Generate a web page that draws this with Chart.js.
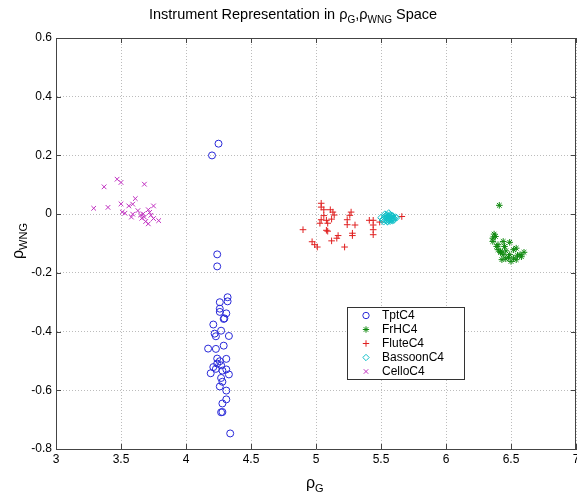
<!DOCTYPE html>
<html>
<head>
<meta charset="utf-8">
<script src="https://cdn.jsdelivr.net/npm/chart.js@4.4.1/dist/chart.umd.min.js"></script>
<style>
  body { margin: 0; background: #fff; }
  #wrap { position: relative; width: 577px; height: 496px; overflow: hidden; font-family: "Liberation Sans", Arial, sans-serif; color: #000; }
  #scatterChart { position: absolute; left: 0; top: 0; }
  #title { position: absolute; left: 149px; top: 6px; font-size: 14.5px; white-space: nowrap; }
  #title sub { font-size: 10px; vertical-align: -4px; line-height: 0; }
  .ax sub { font-size: 11px; vertical-align: -4px; line-height: 0; }
  .ax { position: absolute; font-size: 16px; white-space: nowrap; }
  #xTitle { left: 306px; top: 474px; }
  #yTitle { left: -8px; top: 232px; transform: rotate(-90deg); transform-origin: center; width: 52px; text-align: center; }
</style>
</head>
<body>
<div id="wrap">
  <canvas id="scatterChart" width="581" height="496"></canvas>
  <div id="title">Instrument Representation in &rho;<sub>G</sub>,&rho;<sub>WNG</sub> Space</div>
  <div class="ax" id="xTitle">&rho;<sub>G</sub></div>
  <div class="ax" id="yTitle">&rho;<sub>WNG</sub></div>
</div>
<script>
// tick values
var xTicks = [3, 3.5, 4, 4.5, 5, 5.5, 6, 6.5, 7];
var yTicks = [-0.8, -0.6, -0.4, -0.2, 0, 0.2, 0.4, 0.6];

// series names
var seriesNames = ["TptC4", "FrHC4", "FluteC4", "BassoonC4", "CelloC4"];

// TptC4
var tptX = [4.25, 4.20, 4.24, 4.24, 4.32, 4.32, 4.26, 4.26, 4.26, 4.31, 4.29, 4.295, 4.21, 4.27, 4.22, 4.23, 4.33, 4.29, 4.17, 4.23,
            4.24, 4.31, 4.26, 4.24, 4.27, 4.21, 4.23, 4.31, 4.28, 4.19, 4.33, 4.27, 4.28, 4.26, 4.31, 4.31, 4.28, 4.27, 4.28, 4.34];
var tptY = [0.24, 0.20, -0.137, -0.178, -0.283, -0.297, -0.30, -0.322, -0.333, -0.338, -0.357, -0.355, -0.376, -0.397, -0.407, -0.416, -0.415, -0.448, -0.458, -0.459,
            -0.492, -0.493, -0.501, -0.509, -0.515, -0.521, -0.527, -0.529, -0.533, -0.542, -0.546, -0.558, -0.571, -0.587, -0.601, -0.631, -0.645, -0.675, -0.674, -0.747];

// FrHC4
var frhX = [6.41, 6.37, 6.36, 6.38, 6.36, 6.44, 6.49, 6.40, 6.45, 6.40, 6.42, 6.46, 6.52, 6.54, 6.60, 6.57, 6.49, 6.44, 6.52, 6.48,
            6.43, 6.54, 6.50, 6.42, 6.39, 6.46, 6.55, 6.58];
var frhY = [0.030, -0.068, -0.082, -0.076, -0.093, -0.093, -0.096, -0.104, -0.110, -0.121, -0.127, -0.125, -0.121, -0.116, -0.130, -0.138, -0.138, -0.138, -0.150, -0.147,
            -0.155, -0.155, -0.161, -0.131, -0.110, -0.152, -0.140, -0.145];

// FluteC4
var fluteX = [5.04, 5.04, 5.06, 5.11, 5.13, 5.14, 5.27, 5.26, 5.06, 5.04, 5.08, 5.12, 5.24, 5.03, 5.09, 5.24, 5.30, 4.90, 5.08, 5.09,
              5.28, 5.28, 5.17, 5.16, 5.12, 4.97, 4.99, 5.01, 5.22, 5.41, 5.44, 5.44, 5.44, 5.44, 5.66, 5.49];
var fluteY = [0.037, 0.024, 0.015, 0.015, 0.007, -0.003, 0.007, -0.004, -0.005, -0.019, -0.021, -0.017, -0.019, -0.031, -0.031, -0.036, -0.037, -0.053, -0.055, -0.058,
              -0.065, -0.073, -0.073, -0.082, -0.091, -0.094, -0.104, -0.112, -0.112, -0.021, -0.021, -0.037, -0.053, -0.070, -0.008, -0.027];

// BassoonC4
var bassoonX = [5.50, 5.52, 5.53, 5.54, 5.55, 5.56, 5.57, 5.58, 5.59, 5.60, 5.61, 5.52, 5.53, 5.55, 5.56, 5.57, 5.58, 5.59, 5.54, 5.55,
                5.56, 5.57, 5.58, 5.53, 5.55, 5.57, 5.59, 5.51, 5.54, 5.56, 5.58, 5.60, 5.62, 5.55, 5.57];
var bassoonY = [-0.012, -0.018, -0.008, -0.022, -0.004, -0.015, -0.010, -0.020, -0.006, -0.014, -0.010, -0.026, 0.000, -0.024, 0.004, -0.006, -0.016, -0.022, -0.012, -0.018,
                -0.020, -0.002, -0.012, -0.014, -0.010, -0.018, -0.014, -0.020, -0.004, -0.008, -0.004, -0.020, -0.012, -0.026, -0.024];

// CelloC4
var celloX = [3.47, 3.50, 3.37, 3.68, 3.29, 3.40, 3.50, 3.61, 3.59, 3.56, 3.53, 3.51, 3.59, 3.58, 3.65, 3.67, 3.71, 3.75, 3.72, 3.66,
              3.69, 3.75, 3.79, 3.71, 3.63, 3.73, 3.68];
var celloY = [0.119, 0.108, 0.093, 0.102, 0.020, 0.023, 0.035, 0.053, 0.034, 0.028, 0.003, 0.007, 0.000, -0.010, -0.003, 0.001, 0.015, 0.028, 0.006, -0.014,
              -0.025, -0.015, -0.022, -0.033, 0.012, -0.004, -0.010];

var seriesColors = ["#2828d8", "#108a10", "#e02020", "#10c0c8", "#c030c0"];
var seriesStyles = ["circle", "star", "cross", "rectRot", "crossRot"];

function toPoints(xs, ys) {
  var pts = [];
  for (var i = 0; i < xs.length; i++) {
    pts.push({ x: xs[i], y: ys[i] });
  }
  return pts;
}

var allData = [toPoints(tptX, tptY), toPoints(frhX, frhY), toPoints(fluteX, fluteY), toPoints(bassoonX, bassoonY), toPoints(celloX, celloY)];

var datasets = [];
seriesNames.forEach(function (name, i) {
  datasets.push({
    label: name,
    data: allData[i],
    pointStyle: seriesStyles[i],
    pointRadius: i == 0 ? 3.5 : 3.3,
    pointBorderWidth: 1,
    borderColor: seriesColors[i],
    backgroundColor: "rgba(0,0,0,0)",
    order: 5 - i,
  });
});

// box on top/right, inner tick marks, legend inside plot
var boxLegend = {
  id: "boxLegend",
  afterDraw: function (chart) {
    var ctx = chart.ctx;
    var a = chart.chartArea;
    var sx = chart.scales.x, sy = chart.scales.y;
    ctx.save();
    ctx.strokeStyle = "#444";
    ctx.lineWidth = 1;
    ctx.beginPath();
    ctx.moveTo(a.left, a.top + 0.5);
    ctx.lineTo(a.right, a.top + 0.5);
    ctx.moveTo(a.right - 0.5, a.top);
    ctx.lineTo(a.right - 0.5, a.bottom);
    xTicks.forEach(function (v) {
      var px = Math.round(sx.getPixelForValue(v)) + 0.5;
      ctx.moveTo(px, a.bottom);
      ctx.lineTo(px, a.bottom - 5);
      ctx.moveTo(px, a.top);
      ctx.lineTo(px, a.top + 5);
    });
    yTicks.forEach(function (v) {
      var py = Math.round(sy.getPixelForValue(v)) + 0.5;
      ctx.moveTo(a.left, py);
      ctx.lineTo(a.left + 5, py);
      ctx.moveTo(a.right, py);
      ctx.lineTo(a.right - 5, py);
    });
    ctx.stroke();

    // legend
    var lx = 347, ly = 307, lw = 117, lh = 72;
    ctx.fillStyle = "#fff";
    ctx.fillRect(lx, ly, lw, lh);
    ctx.strokeStyle = "#333";
    ctx.strokeRect(lx + 0.5, ly + 0.5, lw, lh);
    ctx.font = "12px 'Liberation Sans', Arial, sans-serif";
    ctx.textBaseline = "middle";
    ctx.textAlign = "left";
    seriesNames.forEach(function (name, i) {
      var y = ly + 8.5 + i * 14;
      ctx.strokeStyle = seriesColors[i];
      ctx.fillStyle = "rgba(0,0,0,0)";
      ctx.lineWidth = 1;
      Chart.helpers.drawPoint(ctx, { pointStyle: seriesStyles[i], radius: 3.2, borderWidth: 1, rotation: 0 }, 366, y);
      ctx.fillStyle = "#000";
      ctx.fillText(name, 382, y);
    });
    ctx.restore();
  },
};

var ctxScatter = document.getElementById("scatterChart");
var chartScatter = new Chart(ctxScatter, {
  type: "scatter",
  data: { datasets: datasets },
  plugins: [boxLegend],
  options: {
    responsive: false,
    animation: false,
    layout: { padding: { top: 38, right: 0, left: 0, bottom: 0 } },
    plugins: {
      legend: { display: false },
      title: { display: false },
      tooltip: { enabled: false },
    },
    scales: {
      x: {
        type: "linear",
        min: 3,
        max: 7,
        afterBuildTicks: function (scale) {
          scale.ticks = xTicks.map(function (v) { return { value: v }; });
        },
        afterFit: function (scale) {
          scale.height = 47;
          scale.paddingLeft = 0;
          scale.paddingRight = 0;
        },
        ticks: {
          font: { family: "'Liberation Sans', Arial, sans-serif", size: 12 },
          color: "#000",
          padding: 3,
          maxRotation: 0,
          autoSkip: false,
          callback: function (v) { return String(v); },
        },
        grid: { color: "#bcbcbc", drawTicks: false },
        border: { color: "#444", dash: [1, 2] },
      },
      y: {
        type: "linear",
        min: -0.8,
        max: 0.6,
        afterBuildTicks: function (scale) {
          scale.ticks = yTicks.map(function (v) { return { value: v }; });
        },
        afterFit: function (scale) {
          scale.width = 56;
          scale.paddingTop = 0;
          scale.paddingBottom = 0;
        },
        ticks: {
          font: { family: "'Liberation Sans', Arial, sans-serif", size: 12 },
          color: "#000",
          padding: 4,
          autoSkip: false,
          callback: function (v) { return String(Number(v.toFixed(1))); },
        },
        grid: { color: "#bcbcbc", drawTicks: false },
        border: { color: "#444", dash: [1, 2] },
      },
    },
  },
});
</script>
</body>
</html>
